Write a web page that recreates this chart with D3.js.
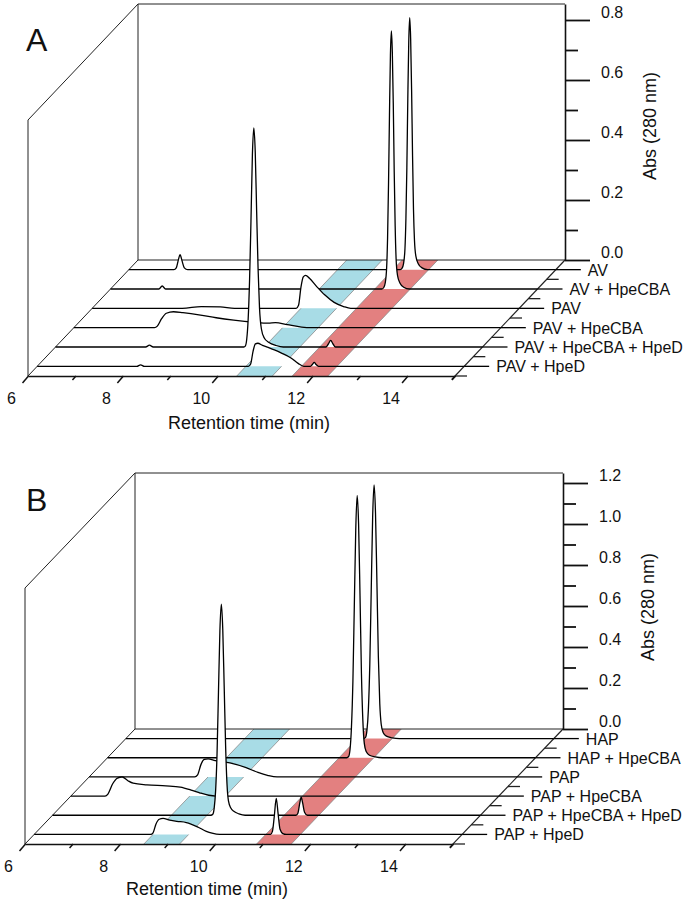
<!DOCTYPE html>
<html><head><meta charset="utf-8">
<script src="https://cdn.jsdelivr.net/npm/d3@7"></script>
<style>body{margin:0;background:#fff;} svg{display:block;font-family:"Liberation Sans",Arial,Helvetica,sans-serif;}</style>
</head><body><svg id="chart" width="687" height="902"></svg>
<script>
// ---------- data ----------
const xDomain = [6, 15];
const xTicksMajor = [6, 8, 10, 12, 14];
const xTicksMinor = [7, 9, 11, 13, 15];

const rowLabelsA = ["AV", "AV + HpeCBA", "PAV", "PAV + HpeCBA", "PAV + HpeCBA + HpeD", "PAV + HpeD"];
const rowLabelsB = ["HAP", "HAP + HpeCBA", "PAP", "PAP + HpeCBA", "PAP + HpeCBA + HpeD", "PAP + HpeD"];

const yTicksA = [0, 0.2, 0.4, 0.6, 0.8];
const yMinorA = [0.1, 0.3, 0.5, 0.7];
const yTicksB = [0, 0.2, 0.4, 0.6, 0.8, 1.0, 1.2];
const yMinorB = [0.1, 0.3, 0.5, 0.7, 0.9, 1.1];

const bandCyanA = [10.4, 11.15];
const bandRedA = [11.57, 12.32];
const bandCyanB = [8.5, 9.25];
const bandRedB = [10.87, 11.6];

// chromatograms: [retention time (min), Abs 280 nm]
const traceA_AV = [[6,0],[6.95,0],[7.0,0.006],[7.04,0.03],[7.08,0.05],[7.12,0.03],[7.17,0.006],[7.24,0],[11.72,0],[11.76,0.005],[11.79,0.02],[11.82,0.07],[11.84,0.17],[11.86,0.34],[11.88,0.57],[11.90,0.76],[11.92,0.84],[11.94,0.77],[11.96,0.6],[11.98,0.38],[12.0,0.2],[12.02,0.1],[12.05,0.045],[12.1,0.02],[12.18,0.006],[12.3,0],[15,0]];
const traceA_AV_CBA = [[6,0],[7.02,0],[7.09,0.01],[7.16,0],[11.72,0],[11.76,0.005],[11.79,0.02],[11.82,0.07],[11.84,0.17],[11.86,0.35],[11.88,0.58],[11.90,0.78],[11.92,0.86],[11.94,0.79],[11.96,0.62],[11.98,0.39],[12.0,0.21],[12.02,0.1],[12.05,0.045],[12.1,0.02],[12.18,0.006],[12.3,0],[15,0]];
const traceA_PAV = [[6,0],[7.9,0],[8.3,0.006],[8.7,0.005],[9.0,0],[10.3,0],[10.35,0.01],[10.4,0.07],[10.45,0.105],[10.5,0.11],[10.58,0.1],[10.72,0.075],[10.9,0.045],[11.1,0.02],[11.3,0.006],[11.45,0],[15,0]];
const traceA_PAV_CBA = [[6,0],[7.7,0],[7.76,0.005],[7.85,0.03],[7.95,0.048],[8.1,0.053],[8.3,0.05],[8.67,0.042],[9.0,0.033],[9.37,0.025],[9.8,0.018],[10.1,0.015],[10.25,0.017],[10.5,0.01],[10.8,0.002],[11.0,0],[15,0]];
const traceA_PAV_CBA_D = [[6,0],[7.9,0],[7.98,0.006],[8.06,0],[9.97,0],[10.0,0.003],[10.03,0.025],[10.06,0.09],[10.09,0.22],[10.12,0.42],[10.15,0.64],[10.18,0.73],[10.21,0.65],[10.24,0.45],[10.27,0.26],[10.3,0.13],[10.34,0.06],[10.4,0.03],[10.5,0.015],[10.65,0.005],[10.8,0],[11.7,0],[11.75,0.01],[11.8,0.022],[11.85,0.01],[11.9,0],[15,0]];
const traceA_PAV_D = [[6,0],[8.1,0],[8.18,0.005],[8.26,0],[10.45,0],[10.5,0.008],[10.55,0.05],[10.6,0.075],[10.65,0.077],[10.75,0.07],[10.87,0.063],[11.0,0.055],[11.14,0.045],[11.35,0.028],[11.5,0.01],[11.62,0],[11.76,0],[11.8,0.006],[11.84,0.013],[11.88,0.006],[11.93,0],[15,0]];

const traceB_HAP = [[6,0],[11.0,0],[11.04,0.006],[11.07,0.04],[11.1,0.14],[11.13,0.36],[11.16,0.72],[11.19,1.08],[11.22,1.237],[11.25,1.1],[11.28,0.76],[11.31,0.4],[11.34,0.17],[11.37,0.07],[11.41,0.03],[11.48,0.012],[11.6,0.004],[11.75,0],[15,0]];
const traceB_HAP_CBA = [[6,0],[11.03,0],[11.07,0.006],[11.1,0.04],[11.13,0.15],[11.16,0.37],[11.19,0.74],[11.22,1.11],[11.25,1.28],[11.28,1.14],[11.31,0.79],[11.34,0.41],[11.37,0.18],[11.4,0.07],[11.44,0.03],[11.51,0.012],[11.63,0.004],[11.78,0],[15,0]];
const traceB_PAP = [[6,0],[8.22,0],[8.28,0.01],[8.35,0.06],[8.42,0.085],[8.5,0.088],[8.65,0.08],[8.96,0.068],[9.3,0.045],[9.55,0.022],[9.75,0.008],[9.95,0],[15,0]];
const traceB_PAP_CBA = [[6,0],[6.72,0],[6.78,0.01],[6.88,0.06],[6.98,0.088],[7.08,0.093],[7.2,0.075],[7.31,0.063],[7.6,0.055],[8.0,0.05],[8.3,0.044],[8.55,0.028],[8.72,0.015],[8.9,0.004],[9.05,0],[15,0]];
const traceB_PAP_CBA_D = [[6,0],[9.33,0],[9.37,0.005],[9.4,0.035],[9.43,0.12],[9.46,0.3],[9.49,0.6],[9.52,0.9],[9.55,1.03],[9.58,0.91],[9.61,0.63],[9.64,0.34],[9.67,0.15],[9.7,0.07],[9.75,0.035],[9.82,0.018],[9.92,0.007],[10.05,0],[11.12,0],[11.16,0.01],[11.2,0.06],[11.23,0.088],[11.26,0.06],[11.3,0.015],[11.36,0],[15,0]];
const traceB_PAP_D = [[6,0],[8.45,0],[8.5,0.008],[8.56,0.05],[8.63,0.074],[8.71,0.078],[8.85,0.07],[9.0,0.064],[9.2,0.058],[9.45,0.035],[9.62,0.015],[9.74,0.006],[9.9,0],[10.97,0],[11.01,0.015],[11.05,0.09],[11.09,0.176],[11.13,0.1],[11.17,0.025],[11.23,0.004],[11.3,0],[15,0]];

const tracesA = [traceA_AV, traceA_AV_CBA, traceA_PAV, traceA_PAV_CBA, traceA_PAV_CBA_D, traceA_PAV_D];
const tracesB = [traceB_HAP, traceB_HAP_CBA, traceB_PAP, traceB_PAP_CBA, traceB_PAP_CBA_D, traceB_PAP_D];

// ---------- drawing ----------
const svg = d3.select("#chart");
const FONT = '"Liberation Sans", Arial, Helvetica, sans-serif';
const CYAN = "#a8dce6", RED = "#e38080";

function drawPanel(p) {
  const g = svg.append("g");
  const x = d3.scaleLinear().domain(xDomain).range([p.left, p.right]);
  const y = d3.scaleLinear().domain([0, p.yTop]).range([p.base, p.top]);
  const n = p.traces.length;
  const fRow = i => (i + 0.5) / n;
  const X = (t, f) => x(t) + p.dx * f;
  const Y = (v, f) => y(v) + p.dy * f;
  const t0 = xDomain[0], t1 = xDomain[1];

  // frame (back plane + left wall + floor)
  const fr = g.append("g").attr("fill", "none").attr("stroke", "#222").attr("stroke-width", 1);
  fr.append("path").attr("d", `M${x(t0)},${y(0)}V${y(p.yTop)}H${x(t1)}`);
  fr.append("path").attr("d", `M${x(t0)},${y(p.yTop)}L${X(t0,1)},${Y(p.yTop,1)}V${Y(0,1)}`);
  fr.append("path").attr("d", `M${x(t0)},${y(0)}H${x(t1)}`);
  fr.append("path").attr("d", `M${x(t0)},${y(0)}L${X(t0,1)},${Y(0,1)}`);

  // bands
  const bands = [[p.cyan, CYAN], [p.red, RED]];
  bands.forEach(([b, col]) => {
    g.append("path")
      .attr("d", `M${X(b[0],0)},${Y(0,0)}L${X(b[1],0)},${Y(0,0)}L${X(b[1],1)},${Y(0,1)}L${X(b[0],1)},${Y(0,1)}Z`)
      .attr("fill", col).attr("stroke", "none");
    [b[0], b[1]].forEach(t => g.append("line")
      .attr("x1", X(t,0)).attr("y1", Y(0,0)).attr("x2", X(t,1)).attr("y2", Y(0,1))
      .attr("stroke", "#8a8a8a").attr("stroke-width", 0.8));
  });

  // right floor diagonal
  fr.raise();
  g.append("line").attr("x1", x(t1)).attr("y1", y(0)).attr("x2", X(t1, 1.03)).attr("y2", Y(0, 1.03))
    .attr("stroke", "#222").attr("stroke-width", 1.2);

  // traces, back to front
  p.traces.forEach((tr, i) => {
    const f = fRow(i);
    const area = d3.area().x(d => X(d[0], f)).y0(Y(0, f)).y1(d => Y(d[1], f)).curve(d3.curveMonotoneX);
    const line = d3.line().x(d => X(d[0], f)).y(d => Y(d[1], f)).curve(d3.curveMonotoneX);
    g.append("path").attr("d", area(tr)).attr("fill", "#fff").attr("stroke", "none");
    g.append("path").attr("d", line(tr)).attr("fill", "none").attr("stroke", "#000").attr("stroke-width", 1.3)
      .attr("stroke-linejoin", "round");
  });

  // depth ticks at boundaries
  for (let k = 1; k <= n; k++) {
    const f = k / n;
    g.append("line").attr("x1", X(t1, f)).attr("y1", Y(0, f)).attr("x2", X(t1, f) + 12).attr("y2", Y(0, f))
      .attr("stroke", "#222").attr("stroke-width", 1.3);
  }
  // row leaders + labels
  p.labels.forEach((lab, i) => {
    const f = fRow(i);
    g.append("line").attr("x1", X(t1, f)).attr("y1", Y(0, f)).attr("x2", X(t1, f) + 25).attr("y2", Y(0, f))
      .attr("stroke", "#000").attr("stroke-width", 1.3);
    g.append("text").attr("x", X(t1, f) + 32).attr("y", Y(0, f)).attr("dy", "0.38em")
      .attr("font-size", 16).attr("font-family", FONT).attr("fill", "#111").text(lab);
  });

  // y axis (right)
  const ya = g.append("g").attr("transform", `translate(${x(t1)},0)`)
    .call(d3.axisRight(y).tickValues(p.yTicks).tickSize(25).tickSizeOuter(0).tickPadding(11).tickFormat(d3.format(".1f")));
  ya.attr("font-size", 16).attr("font-family", FONT);
  ya.select(".domain").attr("stroke", "#111").attr("stroke-width", 1.6);
  ya.selectAll(".tick line").attr("stroke", "#111").attr("stroke-width", 1.8);
  ya.selectAll(".tick text").attr("dy", "-0.14em").attr("fill", "#111");
  const ym = g.append("g").attr("transform", `translate(${x(t1)},0)`)
    .call(d3.axisRight(y).tickValues(p.yMinor).tickSize(13).tickFormat(""));
  ym.select(".domain").remove();
  ym.selectAll(".tick line").attr("stroke", "#111").attr("stroke-width", 1.8);

  // x axis (front edge, slanted ticks)
  const xa = g.append("g").attr("transform", `translate(${p.dx},${p.base + p.dy})`)
    .call(d3.axisBottom(x).tickValues(xTicksMajor).tickSize(7).tickSizeOuter(0).tickFormat(d3.format("d")));
  xa.attr("font-size", 16).attr("font-family", FONT);
  xa.select(".domain").attr("stroke", "#111").attr("stroke-width", 1.5);
  xa.selectAll(".tick line").attr("x2", -6).attr("stroke", "#111").attr("stroke-width", 1.5);
  xa.selectAll(".tick text").attr("x", -17).attr("y", 22).attr("dy", "0.35em").attr("fill", "#111");
  const xm = g.append("g").attr("transform", `translate(${p.dx},${p.base + p.dy})`)
    .call(d3.axisBottom(x).tickValues(xTicksMinor).tickSize(4).tickFormat(""));
  xm.select(".domain").remove();
  xm.selectAll(".tick line").attr("x2", -3.5).attr("stroke", "#111").attr("stroke-width", 1.5);

  // titles
  g.append("text").attr("x", p.xTitle[0]).attr("y", p.xTitle[1]).attr("dy", "0.35em")
    .attr("text-anchor", "middle").attr("font-size", 18).attr("font-family", FONT).attr("fill", "#111")
    .text("Retention time (min)");
  g.append("text").attr("transform", `translate(${p.yTitle[0]},${p.yTitle[1]}) rotate(-90)`).attr("dy", "0.35em")
    .attr("text-anchor", "middle").attr("font-size", 18).attr("font-family", FONT).attr("fill", "#111")
    .text("Abs (280 nm)");
  g.append("text").attr("x", p.letter[0]).attr("y", p.letter[1])
    .attr("font-size", 32).attr("font-family", FONT).attr("fill", "#111").text(p.letterText);
}

drawPanel({
  left: 138, right: 565, base: 260, top: 4, yTop: 256 / 300, dx: -110, dy: 116,
  traces: tracesA, labels: rowLabelsA, yTicks: yTicksA, yMinor: yMinorA,
  cyan: bandCyanA, red: bandRedA,
  xTitle: [249, 423], yTitle: [650, 126], letter: [26, 51], letterText: "A"
});
drawPanel({
  left: 135, right: 563, base: 729, top: 473, yTop: 256 / 205, dx: -110, dy: 115,
  traces: tracesB, labels: rowLabelsB, yTicks: yTicksB, yMinor: yMinorB,
  cyan: bandCyanB, red: bandRedB,
  xTitle: [207, 889], yTitle: [648, 607], letter: [26, 511], letterText: "B"
});
</script>
</body></html>
